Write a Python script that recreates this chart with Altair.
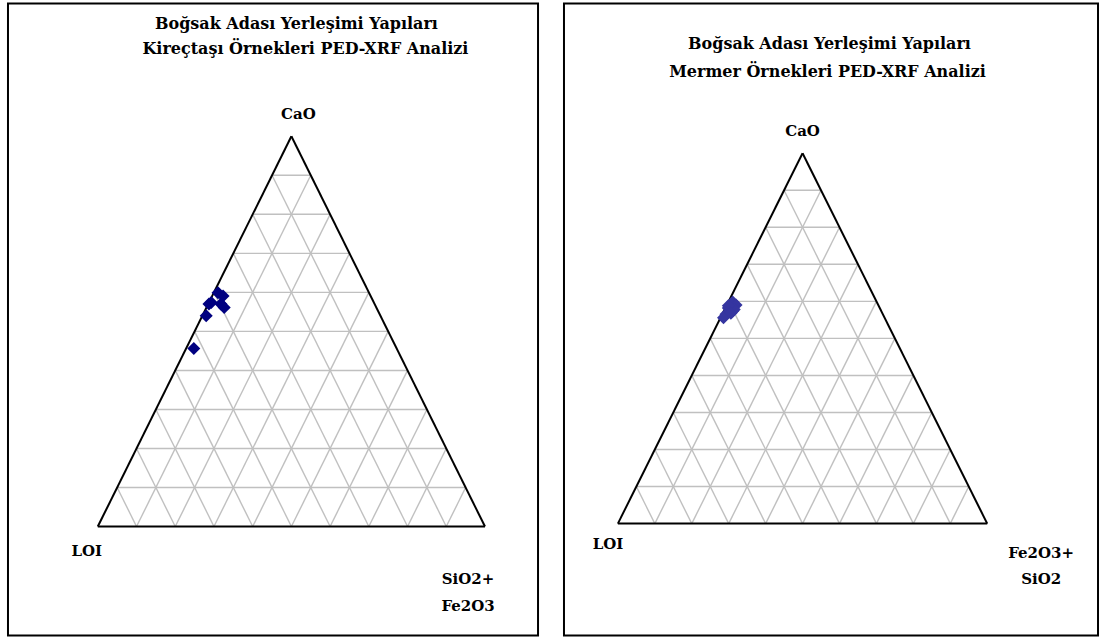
import altair as alt
import pandas as pd

# Sample compositions (wt %) for the two ternary diagrams
kirectasi_cao = [59.9, 59.1, 57.4, 57.0, 56.1, 57.0, 54.0, 45.6]
kirectasi_loi = [39.0, 38.1, 42.0, 39.7, 39.3, 42.8, 45.0, 52.4]
kirectasi_sife = [1.1, 2.8, 0.6, 3.3, 4.6, 0.2, 1.0, 2.0]

mermer_cao = [59.8, 59.0, 58.2, 57.4, 56.5, 55.6, 57.8, 58.8, 56.8]
mermer_loi = [39.0, 38.5, 41.0, 40.2, 42.5, 43.6, 39.6, 40.7, 41.0]
mermer_sife = [1.2, 2.5, 0.8, 2.4, 1.0, 0.8, 2.6, 0.5, 2.2]

titles_left = ["Boğsak  Adası Yerleşimi Yapıları", "Kireçtaşı Örnekleri  PED-XRF Analizi"]
titles_right = ["Boğsak Adası Yerleşimi Yapıları", "Mermer Örnekleri PED-XRF Analizi"]

FONT = "DejaVu Serif"
TITLE_FS = 16
LABEL_FS = 15
GRID_DIVS = 10


def ternary_points(cao, loi, sife):
    rows = []
    for a, l, r in zip(cao, loi, sife):
        s = a + l + r
        a, r = a / s, r / s
        # LOI at (0,0), SiO2+Fe2O3 at (1,0), CaO at (0.5,1)
        rows.append({"x": r + a / 2, "y": a})
    return pd.DataFrame(rows)


def grid_segments():
    rows = []
    for k in range(1, GRID_DIVS):
        f = k / GRID_DIVS
        rows.append({"x": f / 2, "y": f, "x2": 1 - f / 2, "y2": f})
        rows.append({"x": f, "y": 0, "x2": f + (1 - f) / 2, "y2": 1 - f})
        rows.append({"x": 1 - f, "y": 0, "x2": (1 - f) / 2, "y2": 1 - f})
    return pd.DataFrame(rows)


def edge_segments():
    return pd.DataFrame([
        {"x": 0, "y": 0, "x2": 1, "y2": 0},
        {"x": 0, "y": 0, "x2": 0.5, "y2": 1},
        {"x": 1, "y": 0, "x2": 0.5, "y2": 1},
    ])


def label(df, X, Y, dx, dy):
    return alt.Chart(df).mark_text(
        font=FONT, fontSize=LABEL_FS, fontWeight="bold", color="black",
        align="center", baseline="middle", dx=dx, dy=dy).encode(
        x=X("x"), y=Y("y"), text="t:N")


def panel(points, color, xdom, ydom, width, height, titles, title_pos,
          top_label, top_off, left_label, left_off, right_labels, right_off):
    xs = alt.Scale(domain=xdom, nice=False, zero=False)
    ys = alt.Scale(domain=ydom, nice=False, zero=False)
    X = lambda f: alt.X(f, type="quantitative", scale=xs, axis=None)
    Y = lambda f: alt.Y(f, type="quantitative", scale=ys, axis=None)

    grid = alt.Chart(grid_segments()).mark_rule(color="#c0c0c0", strokeWidth=1.4).encode(
        x=X("x"), y=Y("y"), x2="x2", y2="y2")
    edges = alt.Chart(edge_segments()).mark_rule(color="black", strokeWidth=2).encode(
        x=X("x"), y=Y("y"), x2="x2", y2="y2")
    pts = alt.Chart(points).mark_point(shape="diamond", filled=True, size=170,
                                       color=color, opacity=1).encode(x=X("x"), y=Y("y"))

    layers = [grid, edges, pts]

    for t, (px, py) in zip(titles, title_pos):
        layers.append(alt.Chart(pd.DataFrame({"t": [t]})).mark_text(
            font=FONT, fontSize=TITLE_FS, fontWeight="bold", color="black",
            align="center", baseline="middle").encode(
            x=alt.value(px), y=alt.value(py), text="t:N"))

    layers.append(label(pd.DataFrame({"x": [0.5], "y": [1.0], "t": [top_label]}),
                        X, Y, top_off[0], top_off[1]))
    layers.append(label(pd.DataFrame({"x": [0.0], "y": [0.0], "t": [left_label]}),
                        X, Y, left_off[0], left_off[1]))
    for i, lab in enumerate(right_labels):
        layers.append(label(pd.DataFrame({"x": [1.0], "y": [0.0], "t": [lab]}),
                            X, Y, right_off[0], right_off[1] + 27 * i))

    return alt.layer(*layers).properties(width=width, height=height)


left = panel(
    ternary_points(kirectasi_cao, kirectasi_loi, kirectasi_sife), "#000080",
    [-0.232, 1.137], [-0.279, 1.340], 531, 633,
    titles_left, [(289, 20), (298, 46)],
    "CaO", (7, -22), "LOI", (-11, 25), ["SiO2+", "Fe2O3"], (-17, 53),
)

right = panel(
    ternary_points(mermer_cao, mermer_loi, mermer_sife), "#3535A0",
    [-0.146, 1.300], [-0.302, 1.404], 535, 633,
    titles_right, [(266, 41), (264, 69)],
    "CaO", (0, -22), "LOI", (-10, 20), ["Fe2O3+", "SiO2"], (54, 29),
)

chart = alt.hconcat(left, right, spacing=24).properties(
    padding={"left": 7, "top": 2, "right": 6, "bottom": 2},
    background="white",
).configure_view(stroke="black", strokeWidth=2)

chart.save("out.html", embed_options={"renderer": "svg", "actions": False})
